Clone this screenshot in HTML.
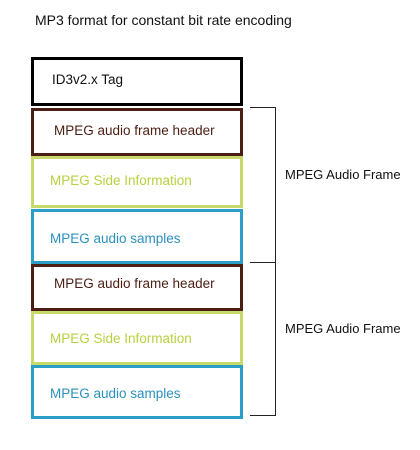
<!DOCTYPE html>
<html><head><style>
body{margin:0;width:420px;height:450px;background:#fff;position:relative;font-family:"Liberation Sans",sans-serif;overflow:hidden}
.b{position:absolute;left:31px;width:212px;box-sizing:border-box;border:3px solid;font-size:13.5px;}
.b span{position:absolute;left:16px;white-space:nowrap}
.t{position:absolute;font-size:13px;color:#111;white-space:nowrap}
.l{position:absolute;background:#222}
</style></head><body>
<div class="t" style="left:35px;top:12px;font-size:14px">MP3 format for constant bit rate encoding</div>
<div class="b" style="top:57px;height:49px;border-color:#000"><span style="top:12px;left:18px;color:#111">ID3v2.x Tag</span></div>
<div class="b" style="top:108px;height:48px;border-color:#4a1e12"><span style="top:12px;left:20px;color:#4a1e12">MPEG audio frame header</span></div>
<div class="b" style="top:156px;height:52px;border-color:#c6d96a"><span style="top:14px;color:#b8d040">MPEG Side Information</span></div>
<div class="b" style="top:209px;height:55px;border-color:#2a9ec6"><span style="top:19px;color:#2a90bc">MPEG audio samples</span></div>
<div class="b" style="top:264px;height:47px;border-color:#4a1e12"><span style="top:9px;left:20px;color:#4a1e12">MPEG audio frame header</span></div>
<div class="b" style="top:311px;height:54px;border-color:#c6d96a"><span style="top:17px;color:#b8d040">MPEG Side Information</span></div>
<div class="b" style="top:365px;height:54px;border-color:#2a9ec6"><span style="top:18px;color:#2a90bc">MPEG audio samples</span></div>
<div class="l" style="left:250px;top:107px;width:26px;height:1px"></div>
<div class="l" style="left:275px;top:107px;width:1px;height:309px"></div>
<div class="l" style="left:250px;top:262px;width:26px;height:1px"></div>
<div class="l" style="left:250px;top:415px;width:26px;height:1px"></div>
<div class="t" style="left:285px;top:167px">MPEG Audio Frame</div>
<div class="t" style="left:285px;top:321px">MPEG Audio Frame</div>
</body></html>
